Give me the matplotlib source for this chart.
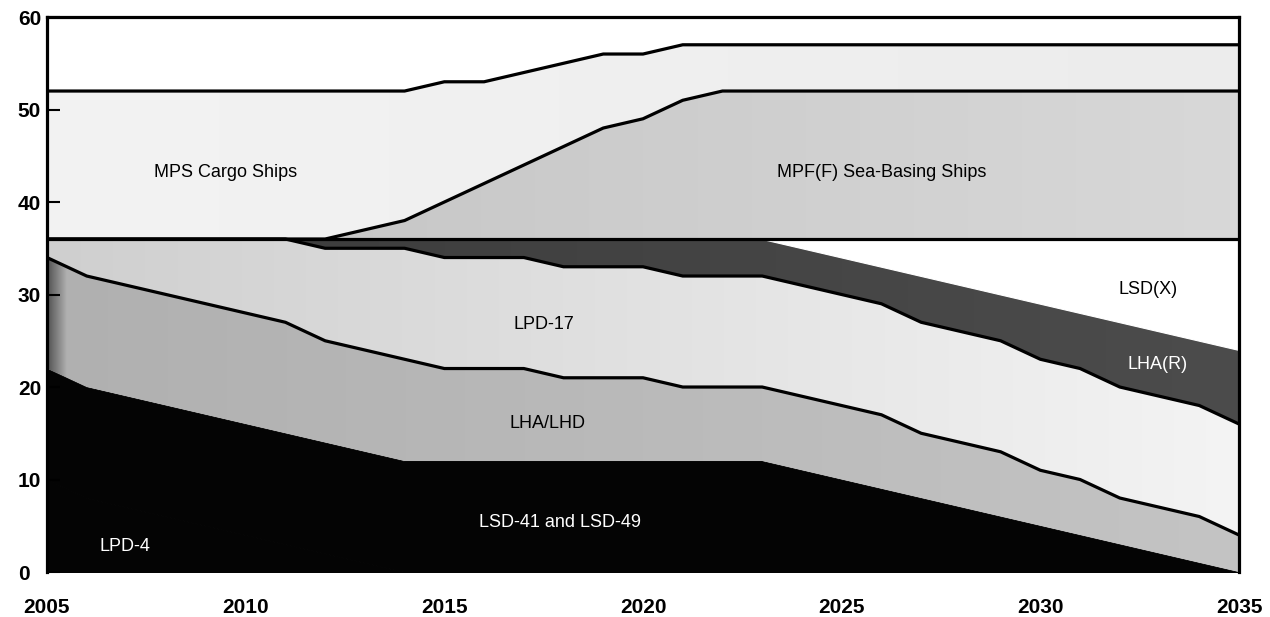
import numpy as np
import matplotlib
matplotlib.use("Agg")
import matplotlib.pyplot as plt
from matplotlib.colors import to_rgb

plt.rcParams['font.family'] = ['Liberation Sans', 'DejaVu Sans']

years = list(range(2005, 2036))

# ships per class, stacked bottom to top
lpd4 = [10, 8, 7, 6, 5, 4, 3, 2, 1, 0, 0, 0, 0, 0, 0, 0, 0, 0, 0, 0,
        0, 0, 0, 0, 0, 0, 0, 0, 0, 0, 0]
lsd41_49 = [12, 12, 12, 12, 12, 12, 12, 12, 12, 12, 12, 12, 12, 12, 12, 12,
            12, 12, 12, 11, 10, 9, 8, 7, 6, 5, 4, 3, 2, 1, 0]
lha_lhd = [12, 12, 12, 12, 12, 12, 12, 11, 11, 11, 10, 10, 10, 9, 9, 9,
           8, 8, 8, 8, 8, 8, 7, 7, 7, 6, 6, 5, 5, 5, 4]
lpd17 = [2, 4, 5, 6, 7, 8, 9, 10, 11, 12, 12, 12, 12, 12, 12, 12,
         12, 12, 12, 12, 12, 12, 12, 12, 12, 12, 12, 12, 12, 12, 12]
lha_r = [0, 0, 0, 0, 0, 0, 0, 1, 1, 1, 2, 2, 2, 3, 3, 3,
         4, 4, 4, 4, 4, 4, 5, 5, 5, 6, 6, 7, 7, 7, 8]
lsd_x = [0, 0, 0, 0, 0, 0, 0, 0, 0, 0, 0, 0, 0, 0, 0, 0,
         0, 0, 0, 1, 2, 3, 4, 5, 6, 7, 8, 9, 10, 11, 12]
mpf_f = [0, 0, 0, 0, 0, 0, 0, 0, 1, 2, 4, 6, 8, 10, 12, 13,
         15, 16, 16, 16, 16, 16, 16, 16, 16, 16, 16, 16, 16, 16, 16]
mps = [16, 16, 16, 16, 16, 16, 16, 16, 15, 14, 13, 11, 10, 9, 8, 7,
       6, 5, 5, 5, 5, 5, 5, 5, 5, 5, 5, 5, 5, 5, 5]

series = [lpd4, lsd41_49, lha_lhd, lpd17, lha_r, lsd_x, mpf_f, mps]
# left colour, right colour (the scan is a stipple that fades across)
fills = [('#040404', '#040404'), ('#040404', '#040404'), ('#b0b0b0', '#c4c4c4'),
         ('#cfcfcf', '#f4f4f4'), ('#3a3a3a', '#4c4c4c'), ('#ffffff', '#ffffff'),
         ('#c2c2c2', '#d8d8d8'), ('#f3f3f3', '#ececec')]
outlined = [False, False, True, True, False, True, True, True]

labels = [('LPD-4', 2006.95, 2.8, 'white'),
          ('LSD-41 and LSD-49', 2017.9, 5.4, 'white'),
          ('LHA/LHD', 2017.6, 16.1, 'black'),
          ('LPD-17', 2017.5, 26.8, 'black'),
          ('LHA(R)', 2032.95, 22.4, 'white'),
          ('LSD(X)', 2032.7, 30.5, 'black'),
          ('MPF(F) Sea-Basing Ships', 2026.0, 43.2, 'black'),
          ('MPS Cargo Ships', 2009.5, 43.2, 'black')]


def gradient_fill(ax, x, lo, hi, c_left, c_right, z):
    if c_left == c_right:
        # plain fill, edge in the same colour so stacked layers show no seam
        return ax.fill_between(x, lo, hi, facecolor=c_left, edgecolor=c_left,
                               lw=0.8, zorder=z)
    poly = ax.fill_between(x, lo, hi, facecolor='none', edgecolor='none', zorder=z)
    a, b = np.array(to_rgb(c_left)), np.array(to_rgb(c_right))
    t = np.linspace(0, 1, 300)[:, None]
    img = (a * (1 - t) + b * t)[None, :, :]
    im = ax.imshow(img, extent=[x[0], x[-1], 0, 60], aspect='auto',
                   origin='lower', zorder=z, interpolation='bilinear')
    im.set_clip_path(poly.get_paths()[0], transform=ax.transData)
    return poly


fig = plt.figure(figsize=(12.7, 6.17), dpi=100)
ax = fig.add_axes([0.037, 0.0729, 0.9386, 0.8995])

x = np.array(years, dtype=float)
base = np.zeros(len(years))
for i, (vals, (cl, cr)) in enumerate(zip(series, fills)):
    top = base + np.array(vals, dtype=float)
    gradient_fill(ax, x, base, top, cl, cr, 1 + i * 0.01)
    if outlined[i]:
        ax.plot(x, top, color='black', lw=2.3, zorder=3, solid_joinstyle='miter')
    if i == 2:
        # darker scan shading at the left edge of LHA/LHD
        poly = ax.fill_between(x, base, top, facecolor='none', edgecolor='none')
        shade = np.zeros((1, 100, 4))
        shade[0, :, 3] = np.linspace(0.55, 0, 100)
        im = ax.imshow(shade, extent=[2005, 2005.5, 0, 60], aspect='auto',
                       origin='lower', zorder=1.5)
        im.set_clip_path(poly.get_paths()[0], transform=ax.transData)
    base = top

for text, lx, ly, col in labels:
    ax.text(lx, ly, text, ha='center', va='center', fontsize=13, color=col, zorder=5)

ax.set_xlim(2005, 2035)
ax.set_ylim(0, 60)
ax.set_xticks([2005, 2010, 2015, 2020, 2025, 2030, 2035])
ax.set_yticks([0, 10, 20, 30, 40, 50, 60])
ax.tick_params(axis='x', length=0, pad=19, labelsize=15)
ax.tick_params(axis='y', direction='in', length=9, width=1.5, pad=21, labelsize=15)
for lab in ax.get_yticklabels():
    lab.set_horizontalalignment('left')
for lab in ax.get_xticklabels() + ax.get_yticklabels():
    lab.set_fontweight('bold')

for side in ['top', 'left', 'right']:
    ax.spines[side].set_linewidth(2.3)
    ax.spines[side].set_zorder(6)
ax.spines['bottom'].set_visible(False)

fig.savefig('out.png', dpi=100)
